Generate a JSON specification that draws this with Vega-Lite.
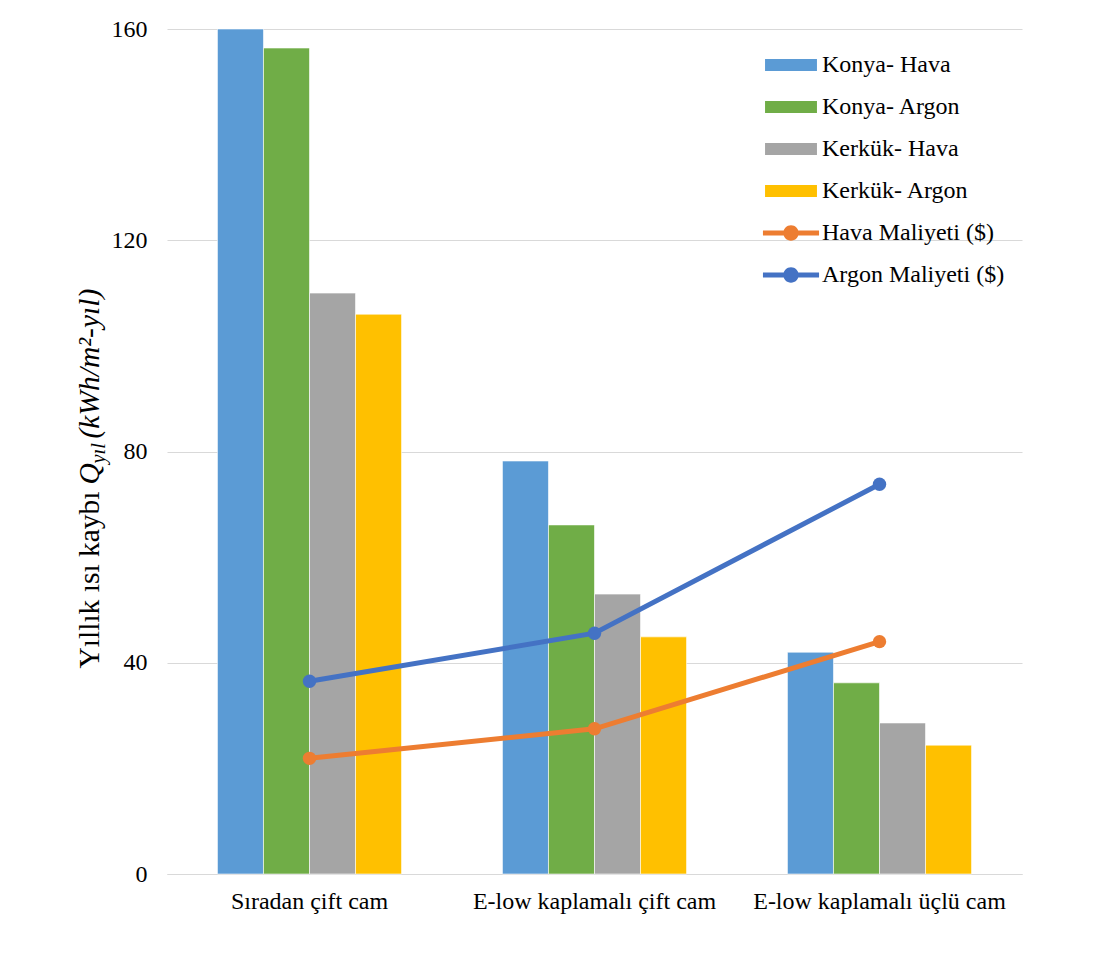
{
  "$schema": "https://vega.github.io/schema/vega-lite/v6.json",
  "width": 855,
  "height": 845,
  "autosize": "none",
  "padding": {"left": 167, "top": 29, "right": 93, "bottom": 93},
  "background": "#ffffff",
  "config": {
    "view": {"stroke": null},
    "font": "Liberation Serif",
    "axis": {"labelFont": "Liberation Serif", "titleFont": "Liberation Serif", "labelColor": "#000000", "titleColor": "#000000", "titleFontWeight": "normal"},
    "legend": {"labelFont": "Liberation Serif", "labelFontSize": 24, "labelColor": "#000000", "padding": 0, "labelLimit": 0}
  },
  "datasets": {
    "bars": [
      {"cam": "Sıradan çift cam", "seri": "Konya- Hava", "deger": 160},
      {"cam": "Sıradan çift cam", "seri": "Konya- Argon", "deger": 156.4},
      {"cam": "Sıradan çift cam", "seri": "Kerkük- Hava", "deger": 110.0},
      {"cam": "Sıradan çift cam", "seri": "Kerkük- Argon", "deger": 106.0},
      {"cam": "E-low kaplamalı çift cam", "seri": "Konya- Hava", "deger": 78.2},
      {"cam": "E-low kaplamalı çift cam", "seri": "Konya- Argon", "deger": 66.1},
      {"cam": "E-low kaplamalı çift cam", "seri": "Kerkük- Hava", "deger": 53.0},
      {"cam": "E-low kaplamalı çift cam", "seri": "Kerkük- Argon", "deger": 44.9},
      {"cam": "E-low kaplamalı üçlü cam", "seri": "Konya- Hava", "deger": 42.0},
      {"cam": "E-low kaplamalı üçlü cam", "seri": "Konya- Argon", "deger": 36.2},
      {"cam": "E-low kaplamalı üçlü cam", "seri": "Kerkük- Hava", "deger": 28.6},
      {"cam": "E-low kaplamalı üçlü cam", "seri": "Kerkük- Argon", "deger": 24.4}
    ],
    "lines": [
      {"cam": "Sıradan çift cam", "maliyet": "Hava Maliyeti ($)", "deger": 21.9},
      {"cam": "E-low kaplamalı çift cam", "maliyet": "Hava Maliyeti ($)", "deger": 27.5},
      {"cam": "E-low kaplamalı üçlü cam", "maliyet": "Hava Maliyeti ($)", "deger": 44.0},
      {"cam": "Sıradan çift cam", "maliyet": "Argon Maliyeti ($)", "deger": 36.5},
      {"cam": "E-low kaplamalı çift cam", "maliyet": "Argon Maliyeti ($)", "deger": 45.6},
      {"cam": "E-low kaplamalı üçlü cam", "maliyet": "Argon Maliyeti ($)", "deger": 73.8}
    ]
  },
  "encoding": {
    "x": {
      "field": "cam",
      "type": "nominal",
      "sort": null,
      "scale": {"domain": ["Sıradan çift cam", "E-low kaplamalı çift cam", "E-low kaplamalı üçlü cam"], "paddingInner": 0.354, "paddingOuter": 0.177},
      "axis": {
        "labelAngle": 0,
        "labelFontSize": 24,
        "labelPadding": 15,
        "labelLimit": 0,
        "ticks": false,
        "domain": true,
        "domainColor": "#d9d9d9",
        "domainWidth": 1,
        "title": "(kWh/m²-yıl)",
        "titleFontSize": 29.5,
        "titleFontStyle": "italic",
        "titleAngle": -90,
        "titleAlign": "left",
        "titleBaseline": "alphabetic",
        "titleX": -69,
        "titleY": -436
      }
    }
  },
  "layer": [
    {
      "data": {"name": "bars"},
      "mark": {"type": "bar", "stroke": "#ffffff", "strokeWidth": 0.6},
      "encoding": {
        "xOffset": {"field": "seri", "type": "nominal", "sort": ["Konya- Hava", "Konya- Argon", "Kerkük- Hava", "Kerkük- Argon"], "scale": {"paddingInner": 0, "paddingOuter": 0}},
        "y": {
          "field": "deger",
          "type": "quantitative",
          "scale": {"domain": [0, 160], "nice": false},
          "axis": {
            "values": [0, 40, 80, 120, 160],
            "grid": true,
            "gridColor": "#d9d9d9",
            "gridWidth": 1,
            "domain": false,
            "ticks": false,
            "labelFontSize": 24,
            "labelPadding": 20,
            "title": "Yıllık ısı kaybı",
            "titleFontSize": 29.5,
            "titleAngle": -90,
            "titleAlign": "left",
            "titleBaseline": "alphabetic",
            "titleX": -69,
            "titleY": 639
          }
        },
        "color": {
          "field": "seri",
          "type": "nominal",
          "scale": {"domain": ["Konya- Hava", "Konya- Argon", "Kerkük- Hava", "Kerkük- Argon"], "range": ["#5b9bd5", "#70ad47", "#a5a5a5", "#ffc000"]},
          "legend": {
            "title": null,
            "orient": "none",
            "legendX": 612,
            "legendY": 24,
            "symbolType": "M-2.36,-0.55H2.36V0.55H-2.36Z",
            "symbolSize": 484,
            "symbolStrokeWidth": 0,
            "labelOffset": 19,
            "rowPadding": 18
          }
        }
      }
    },
    {
      "data": {"name": "lines"},
      "mark": {"type": "line", "strokeWidth": 5},
      "encoding": {
        "y": {
          "field": "deger",
          "type": "quantitative",
          "axis": {
            "orient": "left",
            "domain": false,
            "ticks": false,
            "labels": false,
            "grid": false,
            "title": "Q",
            "titleFontSize": 29.5,
            "titleFontStyle": "italic",
            "titleAngle": -90,
            "titleAlign": "left",
            "titleBaseline": "alphabetic",
            "titleX": -69,
            "titleY": 455
          }
        },
        "stroke": {
          "field": "maliyet",
          "type": "nominal",
          "scale": {"domain": ["Hava Maliyeti ($)", "Argon Maliyeti ($)"], "range": ["#ed7d31", "#4472c4"]},
          "legend": {
            "title": null,
            "orient": "none",
            "legendX": 612,
            "legendY": 192,
            "symbolType": "M-2.55,-0.22H2.55V0.22H-2.55Z M0.7,0A0.7,0.7 0 1,1 -0.7,0A0.7,0.7 0 1,1 0.7,0Z",
            "symbolSize": 484,
            "symbolStrokeWidth": 0,
            "symbolOpacity": 1,
            "labelOffset": 19,
            "rowPadding": 18
          }
        }
      }
    },
    {
      "data": {"name": "lines"},
      "mark": {"type": "circle", "size": 180, "opacity": 1},
      "encoding": {
        "y": {
          "field": "deger",
          "type": "quantitative",
          "axis": {
            "orient": "left",
            "domain": false,
            "ticks": false,
            "labels": false,
            "grid": false,
            "title": "yıl",
            "titleFontSize": 20.5,
            "titleFontStyle": "italic",
            "titleAngle": -90,
            "titleAlign": "left",
            "titleBaseline": "alphabetic",
            "titleX": -63,
            "titleY": 434
          }
        },
        "fill": {
          "field": "maliyet",
          "type": "nominal",
          "scale": {"domain": ["Hava Maliyeti ($)", "Argon Maliyeti ($)"], "range": ["#ed7d31", "#4472c4"]},
          "legend": {
            "title": null,
            "orient": "none",
            "legendX": 612,
            "legendY": 192,
            "symbolType": "M-2.55,-0.22H2.55V0.22H-2.55Z M0.7,0A0.7,0.7 0 1,1 -0.7,0A0.7,0.7 0 1,1 0.7,0Z",
            "symbolSize": 484,
            "symbolStrokeWidth": 0,
            "symbolOpacity": 1,
            "labelOffset": 19,
            "rowPadding": 18
          }
        }
      }
    }
  ],
  "resolve": {"scale": {"y": "shared"}, "axis": {"y": "independent"}}
}
